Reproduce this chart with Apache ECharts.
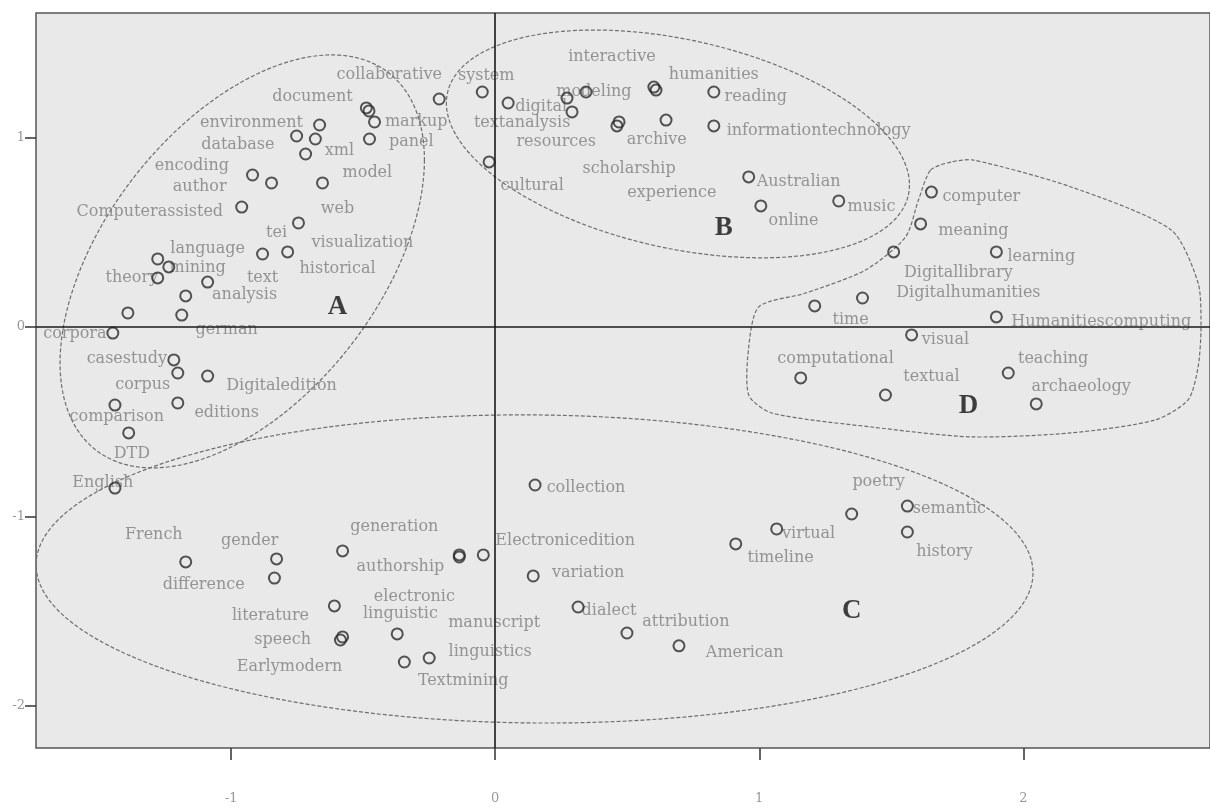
<!DOCTYPE html>
<html><head><meta charset="utf-8">
<script src="https://cdn.jsdelivr.net/npm/echarts@6/dist/echarts.min.js"></script>
<style>html,body{margin:0;padding:0;background:#fff}#c{width:1210px;height:810px}</style>
</head><body><div id="c"></div>
<script>
// term point coordinates (circles)
const pointX = [-0.488,-0.478,-0.457,-0.212,-0.665,-0.752,-0.681,-0.476,-0.718,-0.919,-0.847,-0.654,-0.960,-0.745,-0.881,-0.786,-1.278,-1.236,-1.278,-1.089,-1.172,-1.391,-1.187,-1.448,-1.217,-1.202,-1.089,-1.440,-1.202,-1.388,-1.440,
  -0.049,0.049,0.272,0.344,0.291,0.601,0.609,0.469,0.461,0.647,0.828,0.828,-0.023,0.960,1.006,1.301,
  1.652,1.611,1.509,1.898,1.210,1.391,1.898,1.577,1.157,1.478,1.943,2.049,
  -1.172,-0.828,-0.836,-0.578,-0.136,-0.136,-0.045,0.144,-0.609,-0.586,-0.578,-0.371,-0.344,-0.250,0.151,0.314,0.499,0.696,0.911,1.066,1.350,1.561,1.561];
const pointY = [1.156,1.140,1.082,1.203,1.066,1.008,0.992,0.992,0.913,0.802,0.760,0.760,0.633,0.549,0.385,0.396,0.359,0.317,0.259,0.237,0.164,0.074,0.063,-0.032,-0.174,-0.243,-0.259,-0.412,-0.401,-0.559,-0.850,
  1.240,1.182,1.208,1.240,1.135,1.266,1.250,1.082,1.061,1.092,1.240,1.061,0.871,0.792,0.639,0.665,
  0.712,0.544,0.396,0.396,0.111,0.153,0.053,-0.042,-0.269,-0.359,-0.243,-0.406,
  -1.240,-1.224,-1.325,-1.182,-1.214,-1.203,-1.203,-1.314,-1.472,-1.652,-1.636,-1.620,-1.768,-1.747,-0.834,-1.478,-1.615,-1.683,-1.145,-1.066,-0.987,-0.945,-1.082];

// word positions
const termNames = ['collaborative','document','markup','environment','database','xml','panel','encoding','author','model','Computerassisted','web','tei','visualization','language','mining','theory','text','historical','analysis','german','corpora','casestudy','corpus','Digitaledition','comparison','editions','DTD','English',
  'system','interactive','humanities','modeling','digital','textanalysis','resources','reading','archive','informationtechnology','scholarship','cultural','Australian','experience','music','online',
  'computer','meaning','learning','Digitallibrary','Digitalhumanities','time','Humanitiescomputing','visual','computational','textual','teaching','archaeology',
  'French','gender','generation','difference','authorship','Electronicedition','variation','electronic','literature','linguistic','manuscript','speech','linguistics','Earlymodern','Textmining','collection','dialect','attribution','American','timeline','virtual','poetry','semantic','history'];
const termX = [-0.401,-0.692,-0.299,-0.923,-0.975,-0.590,-0.318,-1.149,-1.119,-0.484,-1.308,-0.597,-0.828,-0.503,-1.089,-1.127,-1.376,-0.881,-0.597,-0.949,-1.017,-1.592,-1.395,-1.335,-0.809,-1.433,-1.017,-1.376,-1.486,
  -0.034,0.442,0.828,0.374,0.174,0.102,0.231,0.987,0.612,1.225,0.507,0.140,1.149,0.669,1.425,1.130,
  1.841,1.811,2.068,1.754,1.792,1.346,2.295,1.705,1.289,1.652,2.113,2.219,
  -1.293,-0.930,-0.382,-1.104,-0.359,0.265,0.352,-0.306,-0.851,-0.359,-0.004,-0.805,-0.019,-0.779,-0.121,0.344,0.431,0.722,0.945,1.081,1.187,1.452,1.720,1.701];
const termY = [1.330,1.214,1.082,1.077,0.960,0.929,0.976,0.850,0.739,0.813,0.607,0.623,0.496,0.443,0.412,0.311,0.259,0.259,0.306,0.169,-0.016,-0.037,-0.169,-0.306,-0.311,-0.475,-0.454,-0.670,-0.823,
  1.325,1.425,1.330,1.240,1.161,1.077,0.976,1.214,0.987,1.034,0.834,0.744,0.765,0.707,0.633,0.559,
  0.686,0.507,0.369,0.285,0.179,0.037,0.026,-0.069,-0.169,-0.264,-0.169,-0.317,
  -1.098,-1.129,-1.055,-1.361,-1.266,-1.129,-1.298,-1.425,-1.525,-1.515,-1.562,-1.652,-1.715,-1.794,-1.868,-0.850,-1.499,-1.557,-1.720,-1.219,-1.092,-0.818,-0.960,-1.187];

// cluster labels
const clusterNames = ['A','B','C','D'];
const clusterX = [-0.597,0.866,1.350,1.792];
const clusterY = [0.106,0.522,-1.499,-0.417];

// cluster ellipses A, B, C (centre and two conjugate semi-axis vectors, data units)
const ellipseCX = [-0.958,0.692,0.149];
const ellipseCY = [0.346,0.966,-1.277];
const ellipseUX = [0.690,0.877,1.888];
const ellipseUY = [0.536,-0.216,-0.021];
const ellipseVX = [0,0,0];
const ellipseVY = [-0.949,-0.561,-0.813];

// cluster D outline
const regionDX = [1.649,1.728,1.811,2.181,2.560,2.662,2.673,2.662,2.624,2.499,2.181,1.803,1.425,1.047,0.960,0.960,0.998,1.176,1.403,1.554,1.603];
const regionDY = [0.828,0.871,0.881,0.739,0.512,0.232,0,-0.211,-0.385,-0.491,-0.559,-0.580,-0.528,-0.454,-0.359,-0.106,0.106,0.179,0.301,0.475,0.670];

// axis ticks
const xTicks = [-1,0,1,2];
const yTicks = [-2,-1,0,1];

const xMin = -1.739, xMax = 2.707, yMin = -2.222, yMax = 1.657;

const dashStyle = {fill:'none', stroke:'#6e6e6e', lineWidth:1.2, lineDash:[4,2]};
const chart = echarts.init(document.getElementById('c'));
chart.setOption({
  animation:false,
  backgroundColor:'#ffffff',
  grid:{left:36,right:-2,top:13,bottom:62,show:true,backgroundColor:'#e9e9e9',borderColor:'#555',borderWidth:1.5},
  xAxis:{type:'value',min:xMin,max:xMax,
    axisLine:{show:false,onZero:false},splitLine:{show:false},
    axisTick:{show:true,length:12,inside:false,customValues:xTicks,lineStyle:{color:'#333',width:1.5}},
    axisLabel:{show:true,customValues:xTicks,margin:44,color:'#999',fontFamily:'DejaVu Serif',fontSize:13}},
  yAxis:{type:'value',min:yMin,max:yMax,
    axisLine:{show:false,onZero:false},splitLine:{show:false},
    axisTick:{show:true,length:11,inside:false,customValues:yTicks,lineStyle:{color:'#333',width:1.5}},
    axisLabel:{show:true,customValues:yTicks,margin:11,color:'#999',fontFamily:'DejaVu Serif',fontSize:13,padding:[48,0,0,0]}},
  series:[
    {type:'custom',clip:true,silent:true,z:2,
      data:ellipseCX.map((cx,i)=>[cx,ellipseCY[i],i]),
      renderItem:function(params,api){
        const i=params.dataIndex; const pts=[];
        for(let k=0;k<=144;k++){
          const t=2*Math.PI*k/144;
          pts.push(api.coord([ellipseCX[i]+ellipseUX[i]*Math.cos(t)+ellipseVX[i]*Math.sin(t),
                              ellipseCY[i]+ellipseUY[i]*Math.cos(t)+ellipseVY[i]*Math.sin(t)]));
        }
        return {type:'polyline',shape:{points:pts},style:dashStyle};
      }},
    {type:'custom',clip:true,silent:true,z:2,
      data:[[regionDX[0],regionDY[0]]],
      renderItem:function(params,api){
        const pts=regionDX.map((x,i)=>api.coord([x,regionDY[i]]));
        return {type:'polygon',shape:{points:pts,smooth:0.25},style:dashStyle};
      }},
    {type:'scatter',z:3,silent:true,symbolSize:1,itemStyle:{color:'transparent'},
      data:termNames.map((n,i)=>({name:n,value:[termX[i],termY[i]]})),
      label:{show:true,position:'inside',formatter:'{b}',color:'#7d7d7d',fontFamily:'DejaVu Serif',fontSize:16}},
    {type:'scatter',z:4,silent:true,symbol:'circle',symbolSize:11,
      itemStyle:{color:'transparent',borderColor:'#2a2a2a',borderWidth:2},
      data:pointX.map((x,i)=>[x,pointY[i]]),
      markLine:{silent:true,symbol:'none',label:{show:false},lineStyle:{color:'#1a1a1a',width:1.6,type:'solid'},
        data:[{xAxis:0},{yAxis:0}]}},
    {type:'scatter',z:5,silent:true,symbolSize:1,itemStyle:{color:'transparent'},
      data:clusterNames.map((n,i)=>({name:n,value:[clusterX[i],clusterY[i]]})),
      label:{show:true,position:'inside',formatter:'{b}',color:'#111',fontFamily:'Liberation Serif',fontWeight:'bold',fontSize:27}}
  ]
});
</script></body></html>
